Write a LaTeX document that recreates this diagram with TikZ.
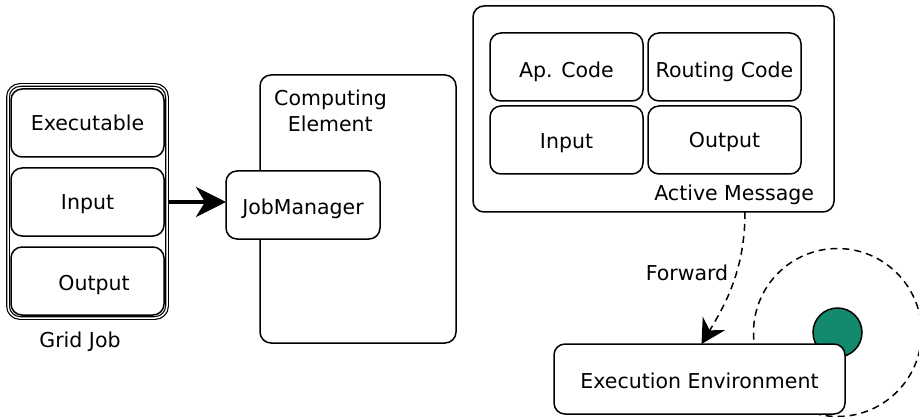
\documentclass[tikz,border=0pt]{standalone}
\usepackage{fontspec}
\setmainfont{DejaVu Sans}
\usetikzlibrary{arrows.meta}
\definecolor{teal1}{RGB}{19,138,110}
\begin{document}
\begin{tikzpicture}[x=1pt,y=-1pt,
  font=\fontsize{20.5}{26}\selectfont,
  box/.style={draw, line width=1.5pt, rounded corners=11pt, fill=white, inner sep=0pt, outer sep=0pt},
  part/.style={box, minimum width=153pt, minimum height=68pt},
  tb/.style={text height=#1, text depth=0pt},
  lbl/.style={inner sep=0pt, outer sep=0pt, anchor=base}
]
\useasboundingbox (0,0) rectangle (919,417);

% Grid Job
\node[draw, double, double distance=1.5pt, line width=1.2pt, rounded corners=12pt,
  minimum width=159pt, minimum height=233pt, inner sep=0pt] (gj) at (87.5,201.5) {};
\node[part, tb=15.4pt] (exe) at (87.5,123) {Executable};
\node[part, tb=16pt] (gin) at (87.5,202) {Input};
\node[part, tb=18pt] (gout) at (87.5,281) {\hspace*{13pt}Output};
\node[lbl] (gjl) at (80,347.3) {Grid Job};

% Computing Element
\node[box, minimum width=196pt, minimum height=268pt] (ce) at (358,209) {};
\node[lbl] (cel1) at (330.5,105.7) {Computing};
\node[lbl] (cel2) at (330.3,131.7) {Element};
\node[box, tb=18.6pt, minimum width=154pt, minimum height=68pt] (jm) at (303,205) {JobManager};

\draw[line width=3.8pt, shorten <=5pt, -{Stealth[length=30pt,width=30pt,inset=9pt]}]
  (gin.east) -- (jm.west |- gin.east);

% Active Message
\node[box, minimum width=361pt, minimum height=206pt] (am) at (653.5,109) {};
\node[part, tb=20.6pt] (ap) at (566.5,67) {Ap. Code};
\node[part, tb=20.6pt] (rc) at (724.5,67) {Routing Code};
\node[part, tb=16.6pt] (ain) at (566.5,140) {Input};
\node[part, tb=16pt] (aout) at (724.5,140) {Output};
\node[lbl] (aml) at (734.2,200.7) {Active Message};

% Execution Environment
\draw[line width=1.5pt, dash pattern=on 7pt off 5pt] (837.5,332.5) circle[radius=84pt];
\node[circle, draw, line width=1.5pt, fill=teal1, minimum size=49pt, inner sep=0pt] (dot) at (837.5,332.5) {};
\node[box, tb=18.6pt, minimum width=291pt, minimum height=70pt] (ee) at (699.5,379) {Execution Environment};

\draw[line width=1.5pt, dash pattern=on 7pt off 5pt, -{Stealth[length=24pt,width=26pt,inset=8pt]}]
  ([xshift=91.5pt]am.south) .. controls (745,270) and (725,305) .. ([xshift=2pt]ee.north);
\node[lbl] (fwd) at (687,280) {Forward};
\end{tikzpicture}
\end{document}
